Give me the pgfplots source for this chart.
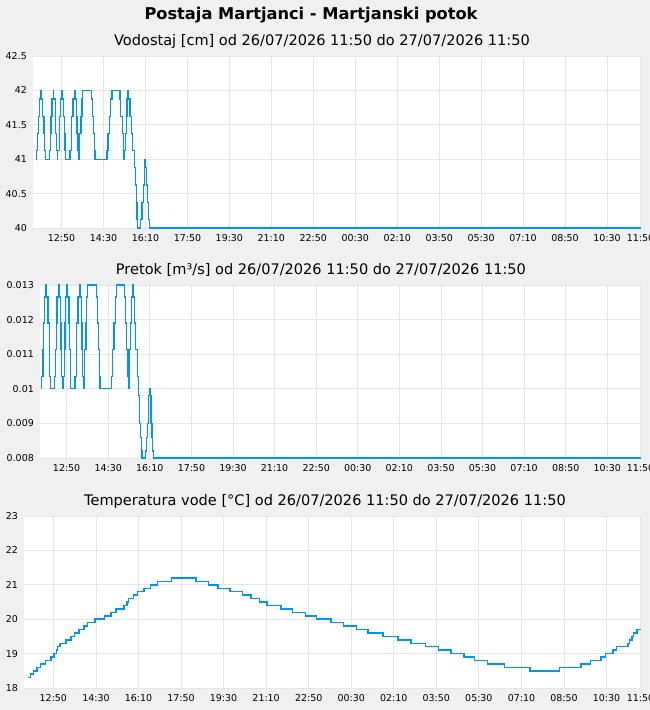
\documentclass[border=0pt]{standalone}
\usepackage{pgfplots}
\pgfplotsset{compat=1.18}
\usepackage{pgfplotstable}
\usepackage{fontspec}
\setmainfont{DejaVu Sans}
\definecolor{bg}{RGB}{240,240,240}
\definecolor{gridc}{RGB}{230,230,230}
\definecolor{lineblue}{RGB}{0,150,240}

\pgfplotstableread{
t h
0 41
0.5 41.125
3.5 41.375
5 41.625
7 41.875
10 42
12 41.875
15 41.625
18 41.375
19.5 41.125
21 41
30.5 41.125
33.5 41.375
35 41.625
37 41.875
40 42
41.5 41.875
45 41.625
46.5 41.375
48 41.125
49.5 41
51 41.125
54.5 41.375
56 41.625
57.5 41.875
60.5 42
62 41.875
65.5 41.625
67 41.375
68.5 41.125
70 41
80 41.125
83 41.375
84.5 41.625
87.5 41.875
91 42
92.5 41.875
95.5 41.625
97 41.375
99 41.125
100.5 41
102 41.125
103.5 41.375
106.5 41.625
108.5 41.875
110 42
132 41.875
134 41.625
137 41.375
138.5 41.125
140 41
168.5 41.125
171 41.375
174 41.625
177.5 41.875
180.5 42
199.5 41.875
201 41.625
204.5 41.375
207.5 41.125
209 41
210.5 41.125
212 41.375
214 41.625
216 41.875
218.5 42
220 41.875
223 41.625
226.5 41.375
230 41.125
233 40.875
236 40.625
238.5 40.375
240 40.125
241 40
249 40.125
252 40.375
254.5 40.625
257 40.875
259 41
260.5 40.875
263 40.625
265 40.375
267 40.125
269.5 40
1440 40
}\levtable

\pgfplotstableread{
t q
0 0.0100
0.5 0.01035
3.5 0.01113
5 0.01190
7 0.01265
10 0.0130
12 0.01265
15 0.01190
18 0.01113
19.5 0.01035
21 0.0100
30.5 0.01035
33.5 0.01113
35 0.01190
37 0.01265
40 0.0130
41.5 0.01265
45 0.01190
46.5 0.01113
48 0.01035
49.5 0.0100
51 0.01035
54.5 0.01113
56 0.01190
57.5 0.01265
60.5 0.0130
62 0.01265
65.5 0.01190
67 0.01113
68.5 0.01035
70 0.0100
80 0.01035
83 0.01113
84.5 0.01190
87.5 0.01265
91 0.0130
92.5 0.01265
95.5 0.01190
97 0.01113
99 0.01035
100.5 0.0100
102 0.01035
103.5 0.01113
106.5 0.01190
108.5 0.01265
110 0.0130
132 0.01265
134 0.01190
137 0.01113
138.5 0.01035
140 0.0100
168.5 0.01035
171 0.01113
174 0.01190
177.5 0.01265
180.5 0.0130
199.5 0.01265
201 0.01190
204.5 0.01113
207.5 0.01035
209 0.0100
210.5 0.01035
212 0.01113
214 0.01190
216 0.01265
218.5 0.0130
220 0.01265
223 0.01190
226.5 0.01113
230 0.01035
233 0.0098
236 0.0090
238.5 0.0086
240 0.0082
241 0.0080
249 0.0082
252 0.0086
254.5 0.0090
257 0.0098
259 0.0100
260.5 0.0098
263 0.0090
265 0.0086
267 0.0082
269.5 0.0080
1440 0.0080
}\flowtable

\pgfplotstableread{
t T
0 18.3
6 18.4
13 18.5
21 18.6
30 18.7
42 18.8
55 18.9
62 19.0
67 19.1
70 19.2
76 19.3
90 19.4
102 19.5
110 19.6
120 19.7
132 19.8
140 19.9
158 20.0
180 20.1
195 20.2
207 20.3
226 20.4
233 20.5
237 20.6
248 20.7
258 20.8
273 20.9
288 21.0
305 21.1
338 21.2
395 21.1
425 21.0
447 20.9
475 20.8
505 20.7
525 20.6
545 20.5
562 20.4
595 20.3
622 20.2
652 20.1
678 20.0
712 19.9
742 19.8
772 19.7
800 19.6
835 19.5
870 19.4
900 19.3
935 19.2
965 19.1
995 19.0
1025 18.9
1050 18.8
1080 18.7
1120 18.6
1180 18.5
1250 18.6
1300 18.7
1322 18.8
1347 18.9
1358 19.0
1375 19.1
1383 19.2
1410 19.3
1414 19.4
1420 19.5
1423 19.6
1432 19.7
1440 19.7
}\temptable

\pgfplotsset{
  panel/.style={
    anchor=south west, scale only axis,
    xmax=1441,
    axis background/.style={fill=white},
    axis line style={draw=none},
    major tick length=0pt,
    tick style={draw=none},
    grid=major,
    grid style={draw=gridc, line width=0.8bp},
    xtick={60,160,260,360,460,560,660,760,860,960,1060,1160,1260,1360,1440},
    xticklabels={12:50,14:30,16:10,17:50,19:30,21:10,22:50,00:30,02:10,03:50,05:30,07:10,08:50,10:30,11:50},
    scaled y ticks=false,
    /pgf/number format/assume math mode=true,
    tick label style={font=\fontsize{9.5}{11}\selectfont, inner sep=0pt},
    xticklabel style={anchor=base, yshift=-13.5bp},
    yticklabel style={anchor=east, xshift=-6bp},
    clip=false,
  }
}

\begin{document}
\begin{tikzpicture}
\useasboundingbox (0,0) rectangle (650bp,-710bp);
\clip (0,0) rectangle (650bp,-710bp);
\fill[bg] (0,0) rectangle (650bp,-710bp);

\node[anchor=base, font=\bfseries\fontsize{16.3}{18}\selectfont] at (311bp,-19bp) {Postaja Martjanci - Martjanski potok};
\node[anchor=base, font=\fontsize{14.6}{16}\selectfont] at (322bp,-45bp) {Vodostaj [cm] od 26/07/2026 11:50 do 27/07/2026 11:50};
\node[anchor=base, font=\fontsize{14.6}{16}\selectfont] at (321bp,-274bp) {Pretok [m³/s] od 26/07/2026 11:50 do 27/07/2026 11:50};
\node[anchor=base, font=\fontsize{14.6}{16}\selectfont] at (325bp,-505bp) {Temperatura vode [°C] od 26/07/2026 11:50 do 27/07/2026 11:50};

\begin{axis}[panel, at={(33bp,-228bp)}, width=608bp, height=172bp,
  xmin=-8, ymin=40, ymax=42.5,
  ytick={40,40.5,41,41.5,42,42.5},
  yticklabels={40,40.5,41,41.5,42,42.5}]
  \addplot[const plot, draw=lineblue, line width=1.25bp, mark=none] table[x=t,y=h] {\levtable};
\end{axis}

\begin{axis}[panel, at={(40bp,-458bp)}, width=601bp, height=173bp,
  xmin=-4, ymin=0.008, ymax=0.013,
  ytick={0.008,0.009,0.010,0.011,0.012,0.013},
  yticklabels={0.008,0.009,0.01,0.011,0.012,0.013}]
  \addplot[const plot, draw=lineblue, line width=1.25bp, mark=none] table[x=t,y=q] {\flowtable};
\end{axis}

\begin{axis}[panel, at={(24bp,-688bp)}, width=617bp, height=172bp,
  xmin=-9, ymin=18, ymax=23,
  ytick={18,19,20,21,22,23},
  yticklabels={18,19,20,21,22,23}]
  \addplot[const plot, draw=lineblue, line width=1.5bp, mark=none] table[x=t,y=T] {\temptable};
\end{axis}
\end{tikzpicture}
\end{document}
